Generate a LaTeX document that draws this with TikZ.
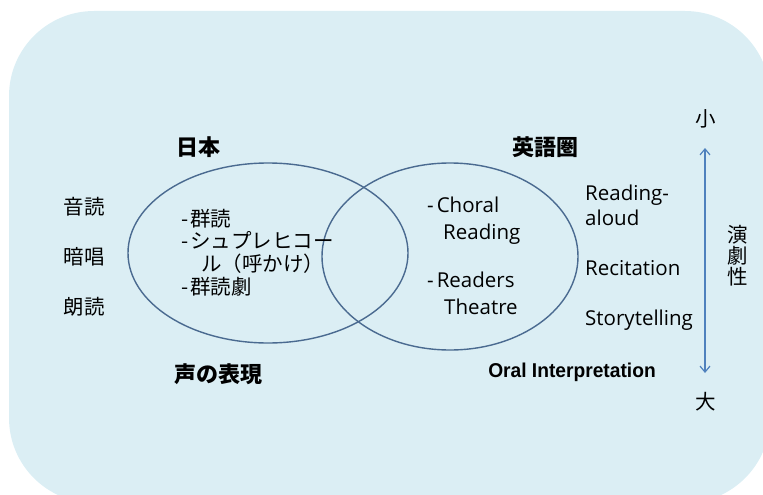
\documentclass[tikz,border=0pt]{standalone}
\usepackage{fontspec}
\usetikzlibrary{arrows.meta}
\newfontfamily\jp{Noto Sans CJK JP}
\newfontfamily\lat{Open Sans}
\newfontfamily\cond[FakeStretch=0.96]{Liberation Sans}
\definecolor{bgblue}{HTML}{DBEEF4}
\definecolor{ringcol}{HTML}{4A6A90}
\definecolor{arrowcol}{HTML}{4F81BD}
\tikzset{
  jptxt/.style={font=\jp\fontsize{20.5}{24}\selectfont, inner sep=0pt, text height=0.8em, text depth=0.15em},
  jpbold/.style={font=\jp\bfseries\fontsize{22}{26}\selectfont, inner sep=0pt},
  lattxt/.style={font=\lat\fontsize{20.5}{23}\selectfont, inner sep=0pt, text height=0.72em, text depth=0.2em, anchor=west},
  ring/.style={draw=ringcol, line width=1.4pt},
}
\begin{document}
\begin{tikzpicture}[x=1pt,y=-1pt]
\useasboundingbox (0,0) rectangle (763,495);
\begin{scope}
\clip (0,0) rectangle (763,495);
\fill[bgblue, rounded corners=85pt] (9,11) rectangle (770,503);
\end{scope}
% ellipses
\draw[ring] (268,253) ellipse [x radius=140, y radius=90];
\draw[ring] (450,256.5) ellipse [x radius=128, y radius=93.5];
% headings
\node[jpbold] (nihon) at (198,147) {日本};
\node[jpbold] (eigo) at (545,147) {英語圏};
\node[jpbold] (koe) at (218,374) {声の表現};
\node[font=\cond\bfseries\fontsize{20}{24}\selectfont, inner sep=0pt] (oral) at (572,372) {Oral Interpretation};
% left words
\node[jptxt] (ondoku) at (84,211) {音読};
\node[jptxt] (ansho) at (84,261) {暗唱};
\node[jptxt] (rodoku) at (84,311) {朗読};
% left ellipse list
\node[jptxt, anchor=west] (l1) at (181,223) {-\hspace{2pt}群読};
\node[jptxt, anchor=west] (l2) at (181,245) {-\hspace{2pt}シュプレヒコー};
\node[jptxt, anchor=west] (l3) at (201,268) {ル（呼かけ）};
\node[jptxt, anchor=west] (l4) at (181,291) {-\hspace{2pt}群読劇};
% right ellipse list
\node[lattxt] (r1) at (427,210) {-\hspace{3pt}Choral};
\node[lattxt] (r2) at (443,237) {Reading};
\node[lattxt] (r3) at (427,285) {-\hspace{3pt}Readers};
\node[lattxt] (r4) at (444,312) {Theatre};
% far right list
\node[lattxt] (s1) at (585,198) {Reading-};
\node[lattxt] (s2) at (585,223) {aloud};
\node[lattxt] (s3) at (585,273) {Recitation};
\node[lattxt] (s4) at (585,323) {Storytelling};
% scale
\node[jptxt] (small) at (706,123) {小};
\node[jptxt] (large) at (706,406) {大};
\coordinate (atop) at (705,148);
\coordinate (abot) at (705,373);
\draw[arrowcol, line width=1.2pt, {Straight Barb[length=6pt,width=10pt]}-{Straight Barb[length=6pt,width=10pt]}] (atop) -- (abot);
\node[jptxt] (en) at (738,239) {演};
\node[jptxt] (geki) at (738,260) {劇};
\node[jptxt] (sei) at (738,281) {性};
\end{tikzpicture}
\end{document}
